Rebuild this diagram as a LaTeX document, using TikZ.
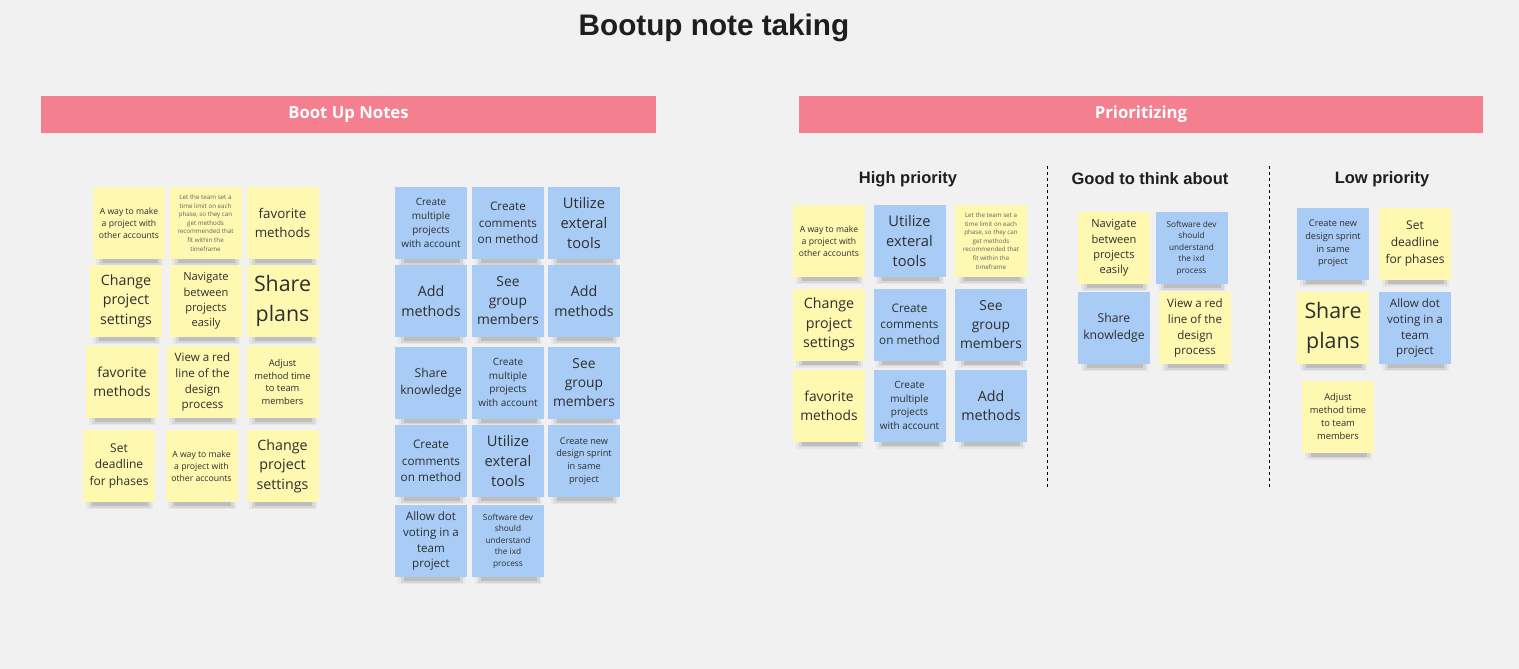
\documentclass[tikz,border=0pt]{standalone}
\usepackage{fontspec}
\setmainfont{Open Sans}
\newfontfamily\titlefont{Liberation Sans}
\usetikzlibrary{positioning}
\definecolor{canvas}{HTML}{F1F1F1}
\definecolor{headpink}{HTML}{F4808F}
\definecolor{noteyellow}{HTML}{FFF8B0}
\definecolor{noteblue}{HTML}{A8CCF5}
\definecolor{notetext}{HTML}{2E2E2E}
\definecolor{titletext}{HTML}{1E1E1E}
\pgfdeclarelayer{canvaslayer}
\pgfdeclarelayer{shadowlayer}
\pgfsetlayers{canvaslayer,shadowlayer,main}
\tikzset{
  notebox/.style={minimum width=72pt, minimum height=72pt, inner sep=0pt, align=center, text=notetext},
  headbar/.style={fill=headpink, draw=none, inner sep=0pt, minimum height=37pt, text=white, font=\bfseries\fontsize{16.7}{19}\selectfont},
  subhead/.style={text=titletext, font=\titlefont\bfseries\fontsize{16.5}{19}\selectfont, inner sep=0pt},
  divider/.style={draw=black, line width=0.9pt, dash pattern=on 3pt off 3pt}
}
\newcommand{\stickynote}[7][notetext]{%
  \node[notebox, fill=#5, text=#1, font={\fontsize{\the\dimexpr #6pt*89/100\relax}{\the\dimexpr #6pt*123/100\relax}\selectfont}] (#2) at (#3,#4) {#7};
  \begin{pgfonlayer}{shadowlayer}
    \fill[black,opacity=0.04] ([xshift=3pt,yshift=-7pt]#2.south west) rectangle ([xshift=-2pt,yshift=3pt]#2.south east);
    \fill[black,opacity=0.07] ([xshift=6pt,yshift=-5.5pt]#2.south west) rectangle ([xshift=-4pt,yshift=3pt]#2.south east);
    \fill[black,opacity=0.11] ([xshift=9pt,yshift=-4pt]#2.south west) rectangle ([xshift=-7pt,yshift=3pt]#2.south east);
  \end{pgfonlayer}}
\begin{document}
\begin{tikzpicture}[x=1pt,y=-1pt]
\begin{pgfonlayer}{canvaslayer}
  \fill[canvas] (0,0) rectangle (1519,669);
\end{pgfonlayer}
\useasboundingbox (0,0) rectangle (1519,669);

% title
\node[text=titletext, font=\titlefont\bfseries\fontsize{29.7}{34}\selectfont, inner sep=0pt] (title) at (714,28) {Bootup note taking};

% header bars
\node[headbar, minimum width=615pt] (bootup) at (348.5,114.5) {Boot Up Notes};
\node[headbar, minimum width=684pt] (prio) at (1141,114.5) {Prioritizing};

% sub headings
\node[subhead] (high) at (908,179) {High priority};
\node[subhead] (good) at (1150,179) {Good to think about};
\node[subhead] (low) at (1382,179) {Low priority};

% dividers
\coordinate (d1a) at (1047,166);
\coordinate (d1b) at (1047,489);
\coordinate (d2a) at (1269,166);
\coordinate (d2b) at (1269,489);
\draw[divider] (d1a) -- (d1b);
\draw[divider] (d2a) -- (d2b);

% ---- Boot up notes: yellow ----
\stickynote{y11}{129}{223}{noteyellow}{9.7}{A way to make\\a project with\\other accounts}
\stickynote[notetext!75]{y12}{205.5}{223}{noteyellow}{7}{Let the team set a\\time limit on each\\phase, so they can\\get methods\\recommended that\\fit within the\\timeframe}
\stickynote{y13}{282.5}{223}{noteyellow}{15}{favorite\\methods}
\stickynote{y21}{126}{301}{noteyellow}{16}{Change\\project\\settings}
\stickynote{y22}{206}{301}{noteyellow}{12.5}{Navigate\\between\\projects\\easily}
\stickynote{y23}{282.5}{301}{noteyellow}{24}{Share\\plans}
\stickynote{y31}{122}{382}{noteyellow}{15.5}{favorite\\methods}
\stickynote{y32}{202.5}{382}{noteyellow}{13}{View a red\\line of the\\design\\process}
\stickynote{y33}{282.5}{382}{noteyellow}{10.5}{Adjust\\method time\\to team\\members}
\stickynote{y41}{119}{466}{noteyellow}{13.5}{Set\\deadline\\for phases}
\stickynote{y42}{201.5}{466}{noteyellow}{9.7}{A way to make\\a project with\\other accounts}
\stickynote{y43}{282.5}{466}{noteyellow}{16}{Change\\project\\settings}

% ---- Boot up notes: blue ----
\stickynote{b11}{431}{223}{noteblue}{11.2}{Create\\multiple\\projects\\with account}
\stickynote{b12}{508}{223}{noteblue}{13.2}{Create\\comments\\on method}
\stickynote{b13}{584}{223}{noteblue}{16.5}{Utilize\\exteral\\tools}
\stickynote{b21}{431}{301}{noteblue}{16}{Add\\methods}
\stickynote{b22}{508}{301}{noteblue}{15.5}{See\\group\\members}
\stickynote{b23}{584}{301}{noteblue}{16}{Add\\methods}
\stickynote{b31}{431}{382.5}{noteblue}{13.7}{Share\\knowledge}
\stickynote{b32}{508}{382.5}{noteblue}{11.2}{Create\\multiple\\projects\\with account}
\stickynote{b33}{584}{382.5}{noteblue}{15.5}{See\\group\\members}
\stickynote{b41}{431}{461}{noteblue}{13.2}{Create\\comments\\on method}
\stickynote{b42}{508}{461}{noteblue}{16.5}{Utilize\\exteral\\tools}
\stickynote{b43}{584}{461}{noteblue}{10.3}{Create new\\design sprint\\in same\\project}
\stickynote{b51}{431}{541}{noteblue}{13}{Allow dot\\voting in a\\team\\project}
\stickynote{b52}{508}{541}{noteblue}{9.3}{Software dev\\should\\understand\\the ixd\\process}

% ---- High priority ----
\stickynote{h11}{829}{241}{noteyellow}{9.7}{A way to make\\a project with\\other accounts}
\stickynote{h12}{909.5}{241}{noteblue}{16.5}{Utilize\\exteral\\tools}
\stickynote[notetext!75]{h13}{991}{241}{noteyellow}{7}{Let the team set a\\time limit on each\\phase, so they can\\get methods\\recommended that\\fit within the\\timeframe}
\stickynote{h21}{829}{324.5}{noteyellow}{16}{Change\\project\\settings}
\stickynote{h22}{909.5}{324.5}{noteblue}{13.2}{Create\\comments\\on method}
\stickynote{h23}{991}{324.5}{noteblue}{15.5}{See\\group\\members}
\stickynote{h31}{829}{405.5}{noteyellow}{15.5}{favorite\\methods}
\stickynote{h32}{909.5}{405.5}{noteblue}{11.2}{Create\\multiple\\projects\\with account}
\stickynote{h33}{991}{405.5}{noteblue}{16}{Add\\methods}

% ---- Good to think about ----
\stickynote{g11}{1114}{248}{noteyellow}{12.5}{Navigate\\between\\projects\\easily}
\stickynote{g12}{1191.5}{248}{noteblue}{9.3}{Software dev\\should\\understand\\the ixd\\process}
\stickynote{g21}{1114}{328}{noteblue}{13.7}{Share\\knowledge}
\stickynote{g22}{1195}{328}{noteyellow}{13}{View a red\\line of the\\design\\process}

% ---- Low priority ----
\stickynote{l11}{1333}{243.5}{noteblue}{10.3}{Create new\\design sprint\\in same\\project}
\stickynote{l12}{1415}{243.5}{noteyellow}{13.5}{Set\\deadline\\for phases}
\stickynote{l21}{1333}{328}{noteyellow}{24}{Share\\plans}
\stickynote{l22}{1415}{328}{noteblue}{13}{Allow dot\\voting in a\\team\\project}
\stickynote{l31}{1338}{416.5}{noteyellow}{10.5}{Adjust\\method time\\to team\\members}
\end{tikzpicture}
\end{document}
